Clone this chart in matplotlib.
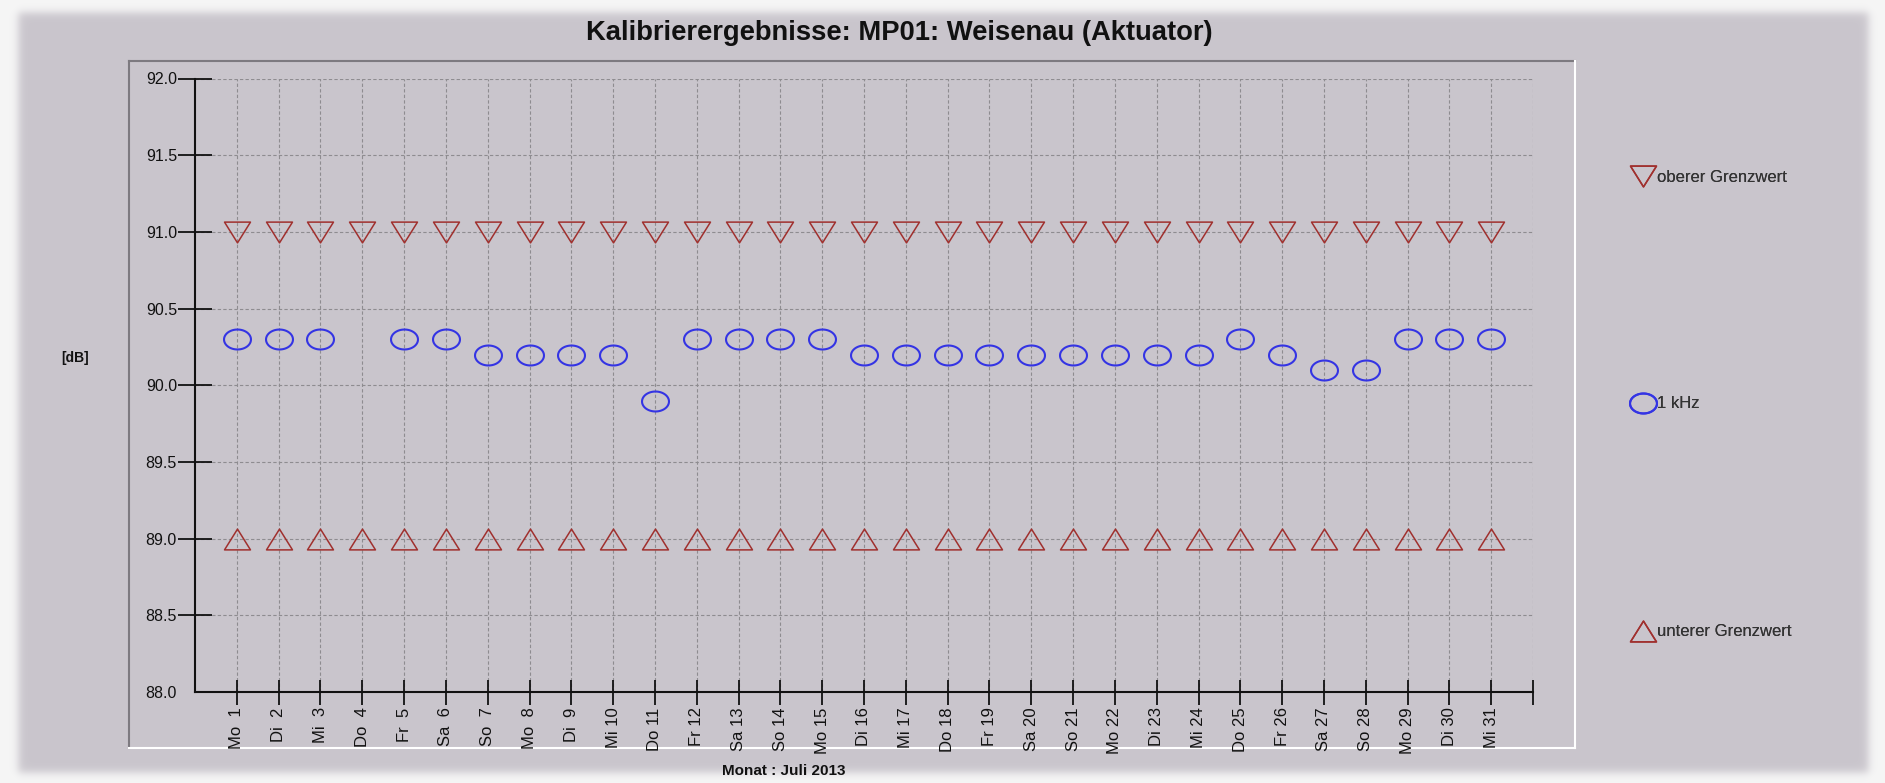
import numpy as np
import matplotlib
matplotlib.use("Agg")
import matplotlib.pyplot as plt
from matplotlib.path import Path
from matplotlib.ticker import FormatStrFormatter

plt.rcParams['font.family'] = ['Liberation Sans', 'DejaVu Sans']

# ---------------- data ----------------
days = list(range(1, 32))
weekdays = ["Mo", "Di", "Mi", "Do", "Fr", "Sa", "So",
            "Mo", "Di", "Mi", "Do", "Fr", "Sa", "So",
            "Mo", "Di", "Mi", "Do", "Fr", "Sa", "So",
            "Mo", "Di", "Mi", "Do", "Fr", "Sa", "So",
            "Mo", "Di", "Mi"]
upper_limit = [91.0, 91.0, 91.0, 91.0, 91.0, 91.0, 91.0, 91.0, 91.0, 91.0,
               91.0, 91.0, 91.0, 91.0, 91.0, 91.0, 91.0, 91.0, 91.0, 91.0,
               91.0, 91.0, 91.0, 91.0, 91.0, 91.0, 91.0, 91.0, 91.0, 91.0, 91.0]
khz1 = [90.3, 90.3, 90.3, np.nan, 90.3, 90.3, 90.2, 90.2, 90.2, 90.2,
        89.9, 90.3, 90.3, 90.3, 90.3, 90.2, 90.2, 90.2, 90.2, 90.2,
        90.2, 90.2, 90.2, 90.2, 90.3, 90.2, 90.1, 90.1, 90.3, 90.3, 90.3]
lower_limit = [89.0, 89.0, 89.0, 89.0, 89.0, 89.0, 89.0, 89.0, 89.0, 89.0,
               89.0, 89.0, 89.0, 89.0, 89.0, 89.0, 89.0, 89.0, 89.0, 89.0,
               89.0, 89.0, 89.0, 89.0, 89.0, 89.0, 89.0, 89.0, 89.0, 89.0, 89.0]
y_ticks = [88.0, 88.5, 89.0, 89.5, 90.0, 90.5, 91.0, 91.5, 92.0]
x_labels = [f"{w} {d:>2}" for w, d in zip(weekdays, days)]
title = "Kalibrierergebnisse: MP01: Weisenau (Aktuator)"
legend_labels = ["oberer Grenzwert", "1 kHz", "unterer Grenzwert"]

# ---------------- figure ----------------
W, H = 1885, 783
fig = plt.figure(figsize=(W / 100, H / 100), dpi=100, facecolor="white")

# background panel with soft shadow edges
bg = fig.add_axes([0, 0, 1, 1], zorder=-10)
yy, xx = np.mgrid[0:H, 0:W]
def ramp(d, s):
    return 0.5 * (1 + np.tanh(d / s))
m = ramp(xx - 18, 5) * ramp(1868 - xx, 5) * ramp(yy - 12, 5) * ramp(772 - yy, 5)
outside = np.array([246, 246, 246]) / 255
panel = np.array([201, 197, 204]) / 255
arr = outside + (panel - outside) * m[..., None]
bg.imshow(arr, extent=(0, W, H, 0), aspect="auto", interpolation="bilinear")
bg.set_xlim(0, W)
bg.set_ylim(H, 0)
bg.axis("off")
# inner bevelled frame
bx0, bx1, by0, by1 = 129, 1575, 61, 748
bg.plot([bx0, bx1], [by0, by0], color="#7d7a80", lw=1.5)
bg.plot([bx0, bx0], [by0, by1], color="#7d7a80", lw=1.5)
bg.plot([bx0, bx1], [by1, by1], color="white", lw=1.5)
bg.plot([bx1, bx1], [by0, by1], color="white", lw=1.5)

# main axes
left_px, right_px, top_px, bot_px = 195, 1533, 78.5, 692
ax = fig.add_axes([left_px / W, (H - bot_px) / H,
                   (right_px - left_px) / W, (bot_px - top_px) / H])
ax.patch.set_alpha(0)
ax.set_xlim(0, 32)
ax.set_ylim(88, 92)

# markers
tdown = Path([(-1, 0.8), (1, 0.8), (0, -0.8), (-1, 0.8)], closed=True)
tup = Path([(-1, -0.8), (1, -0.8), (0, 0.8), (-1, -0.8)], closed=True)
t = np.linspace(0, 2 * np.pi, 80)
ell = Path(np.c_[np.cos(t), 0.74 * np.sin(t)], closed=True)

red = "#a0302e"
blue = "#3434e4"
h1, = ax.plot(days, upper_limit, linestyle="none", marker=tdown, ms=18.7,
              mfc="none", mec=red, mew=1.1, label=legend_labels[0])
h2, = ax.plot(days, khz1, linestyle="none", marker=ell, ms=19.4,
              mfc="none", mec=blue, mew=1.5, label=legend_labels[1])
h3, = ax.plot(days, lower_limit, linestyle="none", marker=tup, ms=18.7,
              mfc="none", mec=red, mew=1.1, label=legend_labels[2])
for h in (h1, h2, h3):
    h.set_clip_on(False)

# axes styling
for s in ("top", "right"):
    ax.spines[s].set_visible(False)
for s in ("left", "bottom"):
    ax.spines[s].set_linewidth(1.5)
    ax.spines[s].set_color("#111111")

ax.set_xticks(list(range(1, 33)))
ax.set_xticklabels(x_labels + [""])
ax.set_yticks(y_ticks)
ax.yaxis.set_major_formatter(FormatStrFormatter("%.1f"))
ax.tick_params(axis="x", direction="inout", length=18, width=1.3, pad=2,
               labelsize=12, labelrotation=90, colors="#111111")
ax.tick_params(axis="y", direction="inout", length=24, width=1.3, pad=1,
               labelsize=11.5, colors="#111111")
ax.yaxis.get_major_ticks()[0].tick1line.set_visible(False)

ax.set_axisbelow(True)
ax.grid(True, color="#8e8c90", linestyle=(0, (3, 2)), linewidth=0.8)

# texts
fig.text(899 / W, 1 - 33 / H, title, ha="center", va="center",
         fontsize=19.7, fontweight="bold", color="#111111")
fig.text(75 / W, 1 - 358 / H, "[dB]", ha="center", va="center",
         fontsize=10, fontweight="bold", color="#111111")
fig.text(784 / W, 1 - 771 / H, "Monat : Juli 2013", ha="center", va="center",
         fontsize=11, fontweight="bold", color="#111111")

# legend (one entry per block, spaced like the original)
leg_fs = 12
leg_x = 1629 / W
for h, lab, ypx in zip((h1, h2, h3), legend_labels, (177, 404, 632)):
    lg = fig.legend([h], [lab], loc="center left",
                    bbox_to_anchor=(leg_x, 1 - ypx / H),
                    frameon=False, fontsize=leg_fs, handlelength=1.68,
                    handletextpad=0.0, borderpad=0, borderaxespad=0,
                    numpoints=1, labelcolor="#333333")
    fig.add_artist(lg)

fig.savefig("out.png", dpi=100, facecolor="white")
